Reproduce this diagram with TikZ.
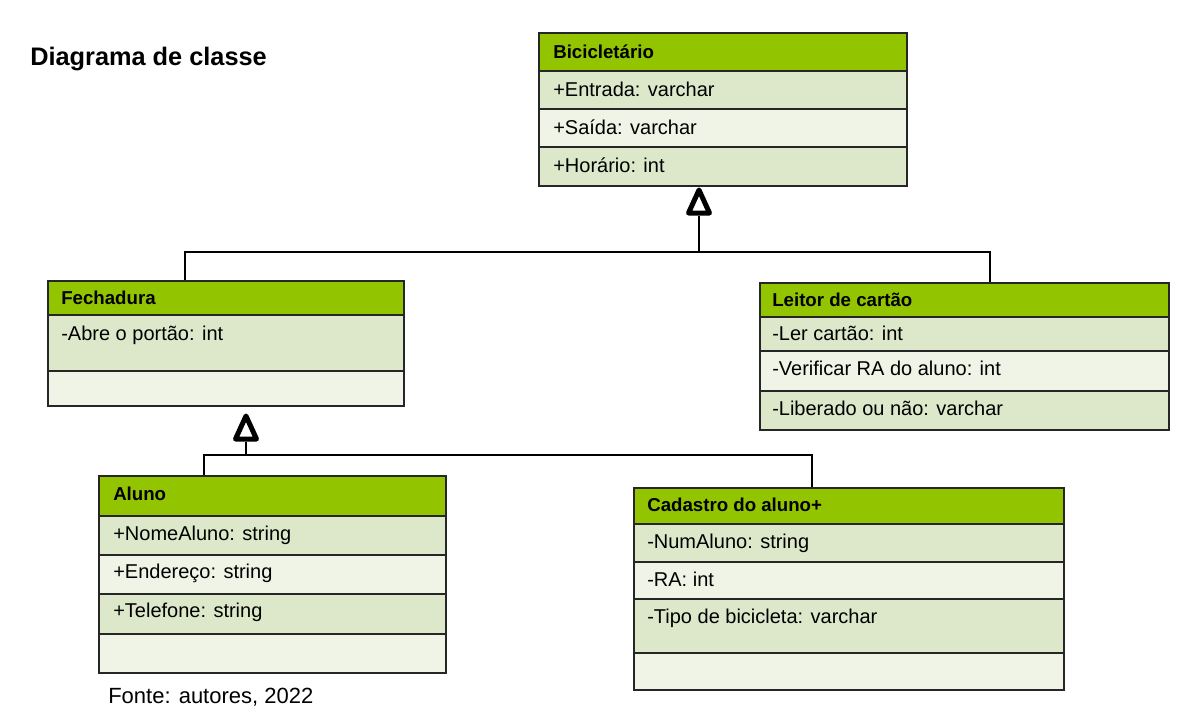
\documentclass[tikz,border=0pt]{standalone}
\usepackage{fontspec}
\setmainfont{Liberation Sans}
\usepackage{xcolor}
\usetikzlibrary{shapes.geometric}

% one pixel of the page
\newcommand{\pxl}{0.75pt}

\definecolor{headgreen}{RGB}{147,196,0}
\definecolor{rowdark}{RGB}{221,232,203}
\definecolor{rowlight}{RGB}{239,244,230}

\tikzset{
  cls/.style 2 args={draw=black!85, line width=1.3pt, anchor=north west, inner sep=0pt,
    minimum width=#1*\pxl, minimum height=#2*\pxl},
  clsname/.style={anchor=base west, inner sep=0pt, font=\bfseries\fontsize{14}{17}\selectfont},
  attr/.style={anchor=base west, inner sep=0pt, font=\fontsize{15}{18}\selectfont},
  link/.style={draw=black, line width=0.8pt},
  gen/.style={isosceles triangle, shape border rotate=90, isosceles triangle stretches,
    draw=black, fill=white, line width=3.75pt, line join=round, inner sep=0pt,
    minimum width=21*\pxl, minimum height=23*\pxl}
}

\begin{document}
\begin{tikzpicture}[x=\pxl, y=-\pxl]
\useasboundingbox (0,0) rectangle (1192,718);

\node[attr, font=\bfseries\fontsize{19}{23}\selectfont] (ttl) at (30,65) {Diagrama de classe};

% Bicicletario, on top
\node[cls={368}{38}, fill=headgreen] (bic) at (538,32) {};
\node[cls={368}{38}, fill=rowdark] (bic1) at (538,70) {};
\node[cls={368}{38}, fill=rowlight] (bic2) at (538,108) {};
\node[cls={368}{39}, fill=rowdark] (bic3) at (538,146) {};
\node[clsname] (bic-n) at (553,58) {Bicicletário};
\node[attr] (bic-a1) at (553,96) {+Entrada: varchar};
\node[attr] (bic-a2) at (553,134) {+Saída: varchar};
\node[attr] (bic-a3) at (553,172) {+Horário: int};

% Fechadura, left
\node[cls={356}{34}, fill=headgreen] (fech) at (47,280) {};
\node[cls={356}{56}, fill=rowdark] (fech1) at (47,314) {};
\node[cls={356}{35}, fill=rowlight] (fech2) at (47,370) {};
\node[clsname] (fech-n) at (61,304) {Fechadura};
\node[attr] (fech-a1) at (61,340) {-Abre o portão: int};

% Leitor de cartao, right
\node[cls={409}{34}, fill=headgreen] (leit) at (759,282) {};
\node[cls={409}{34}, fill=rowdark] (leit1) at (759,316) {};
\node[cls={409}{40}, fill=rowlight] (leit2) at (759,350) {};
\node[cls={409}{39}, fill=rowdark] (leit3) at (759,390) {};
\node[clsname] (leit-n) at (772,306) {Leitor de cartão};
\node[attr] (leit-a1) at (772,340) {-Ler cartão: int};
\node[attr] (leit-a2) at (772,375) {-Verificar RA do aluno: int};
\node[attr] (leit-a3) at (772,415) {-Liberado ou não: varchar};

% Aluno, bottom left
\node[cls={347}{40}, fill=headgreen] (alu) at (98,475) {};
\node[cls={347}{39}, fill=rowdark] (alu1) at (98,515) {};
\node[cls={347}{39}, fill=rowlight] (alu2) at (98,554) {};
\node[cls={347}{40}, fill=rowdark] (alu3) at (98,593) {};
\node[cls={347}{39}, fill=rowlight] (alu4) at (98,633) {};
\node[clsname] (alu-n) at (113,500) {Aluno};
\node[attr] (alu-a1) at (113,540) {+NomeAluno: string};
\node[attr] (alu-a2) at (113,578) {+Endereço: string};
\node[attr] (alu-a3) at (113,617) {+Telefone: string};

% Cadastro do aluno, bottom right
\node[cls={430}{36}, fill=headgreen] (cad) at (633,487) {};
\node[cls={430}{38}, fill=rowdark] (cad1) at (633,523) {};
\node[cls={430}{37}, fill=rowlight] (cad2) at (633,561) {};
\node[cls={430}{54}, fill=rowdark] (cad3) at (633,598) {};
\node[cls={430}{37}, fill=rowlight] (cad4) at (633,652) {};
\node[clsname] (cad-n) at (647,511) {Cadastro do aluno+};
\node[attr] (cad-a1) at (647,548) {-NumAluno: string};
\node[attr] (cad-a2) at (647,586) {-RA: int};
\node[attr] (cad-a3) at (647,623) {-Tipo de bicicleta: varchar};

% generalisation, Bicicletario <- Fechadura, Leitor
\node[gen, anchor=south] (tri1) at (699,215.5) {};
\coordinate (bus1) at (699,252);
\draw[link] (tri1.south) -- (bus1);
\draw[link] ([xshift=138*\pxl]fech.north west) |- (bus1) -| ([xshift=231*\pxl]leit.north west);

% generalisation, Fechadura <- Aluno, Cadastro
\node[gen, anchor=south] (tri2) at (246,441.5) {};
\coordinate (bus2) at (246,455);
\draw[link] (tri2.south) -- (bus2);
\draw[link] ([xshift=106*\pxl]alu.north west) |- (bus2) -| ([xshift=179*\pxl]cad.north west);

\node[attr, font=\fontsize{16.5}{20}\selectfont] (src) at (108,703) {Fonte: autores, 2022};

\end{tikzpicture}
\end{document}
